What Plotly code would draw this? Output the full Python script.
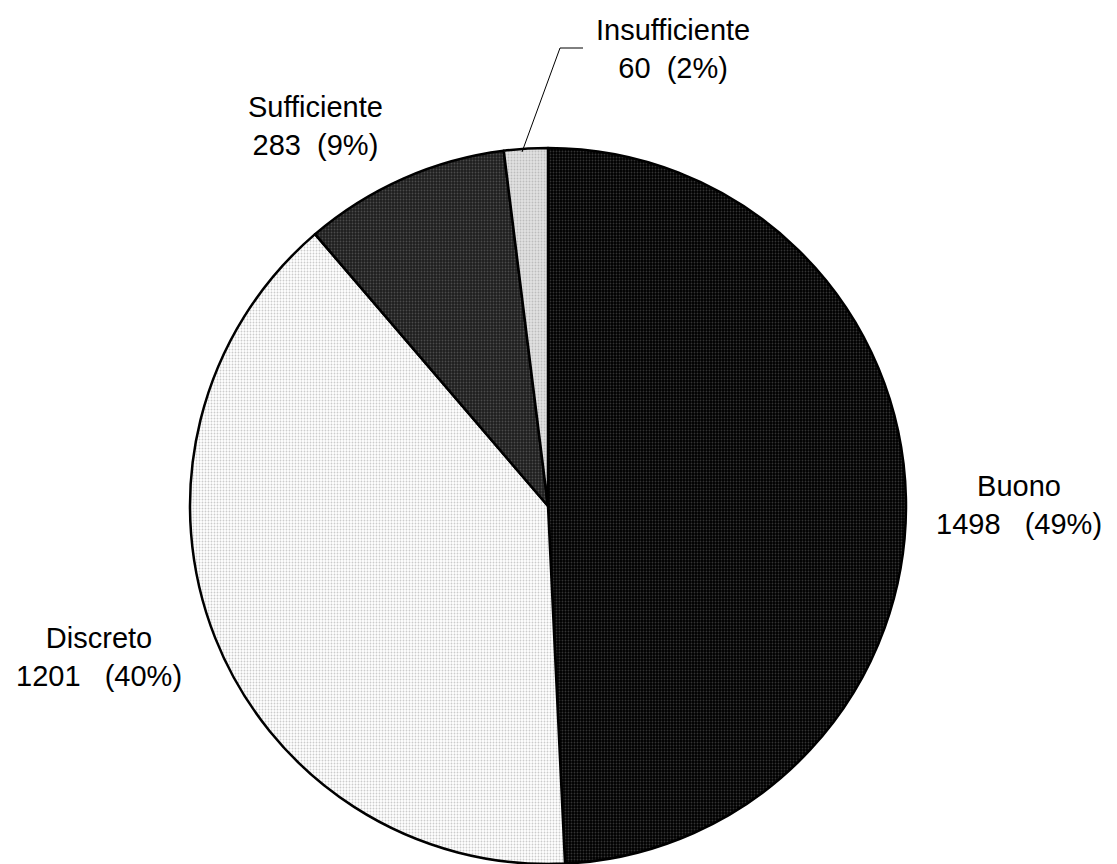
import plotly.graph_objects as go

categories = ["Buono", "Discreto", "Sufficiente", "Insufficiente"]
values = [1498, 1201, 283, 60]
percent_labels = ["49%", "40%", "9%", "2%"]
gaps = ["   ", "   ", "  ", "  "]

slice_colors = ["#000000", "#ffffff", "#1e1e1e", "#e2e2e2"]
dot_colors = ["#333333", "#cccccc", "#4a4a4a", "#bdbdbd"]

W, H = 1117, 864
cx, cy, r = 548, 506, 358

fig = go.Figure()
fig.add_trace(go.Pie(
    labels=categories,
    values=values,
    sort=False,
    direction="clockwise",
    rotation=0,
    textinfo="none",
    hoverinfo="label+value+percent",
    showlegend=False,
    marker=dict(
        colors=slice_colors,
        line=dict(color="#000000", width=2.5),
        pattern=dict(shape=["."] * 4, fgcolor=dot_colors, bgcolor=slice_colors,
                     size=3, solidity=0.3, fillmode="replace"),
    ),
    domain=dict(x=[(cx - r) / W, (cx + r) / W], y=[(H - cy - r) / H, (H - cy + r) / H]),
))

label_pos = [(1019, 505), (99, 657), (315, 126), (673, 49)]
for cat, val, pct, gap, (px, py) in zip(categories, values, percent_labels, gaps, label_pos):
    fig.add_annotation(
        x=px / W, y=1 - py / H, xref="paper", yref="paper",
        text=f"{cat}<br>{val}{gap}({pct})",
        showarrow=False, xanchor="center", yanchor="middle", align="center",
        font=dict(family="Liberation Sans, Arial, sans-serif", size=29, color="#000000"),
    )

# leader line for Insufficiente
pts = [(522, 152), (560, 48), (583, 48)]
path = "M " + " L ".join(f"{x / W},{1 - y / H}" for x, y in pts)
fig.add_shape(type="path", path=path, xref="paper", yref="paper",
              line=dict(color="#000000", width=1))

fig.update_layout(
    width=W, height=H,
    margin=dict(l=0, r=0, t=0, b=0),
    paper_bgcolor="#ffffff", plot_bgcolor="#ffffff",
)
fig.write_html("out.html")
